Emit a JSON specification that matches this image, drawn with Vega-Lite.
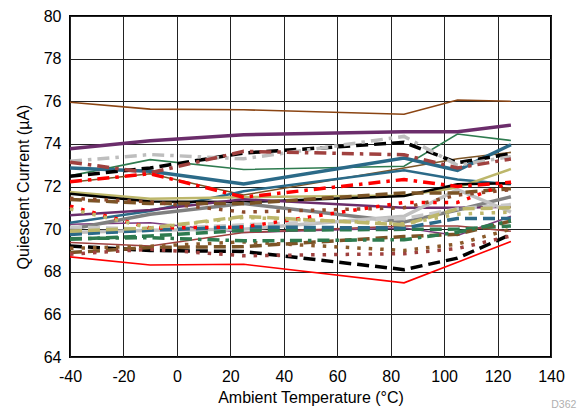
{
  "$schema": "https://vega.github.io/schema/vega-lite/v6.json",
  "autosize": "none",
  "width": 481,
  "height": 341,
  "padding": {"left": 70, "top": 16, "right": 29, "bottom": 58},
  "background": "white",
  "config": {
    "view": {"stroke": "black", "strokeWidth": 2},
    "axis": {"labelFont": "Liberation Sans", "titleFont": "Liberation Sans", "labelFontSize": 16, "titleFontSize": 16, "titleFontWeight": "normal", "labelColor": "black", "titleColor": "black", "gridColor": "#222", "gridOpacity": 1, "gridWidth": 1, "ticks": false, "domain": false, "labelExpr": "'' + datum.value"}
  },
  "title": {"text": "D362", "orient": "bottom", "anchor": "end", "align": "right", "fontSize": 10.5, "fontWeight": "normal", "color": "#b0b0b0", "font": "Liberation Sans", "dx": 12, "dy": -5, "offset": 0},
  "data": {"values": [
    {"s":"A","t":-40,"v":75.95},{"s":"A","t":-10,"v":75.63},{"s":"A","t":25,"v":75.6},{"s":"A","t":85,"v":75.39},{"s":"A","t":105,"v":76.06},{"s":"A","t":125,"v":76.0},
    {"s":"B","t":-40,"v":73.77},{"s":"B","t":-10,"v":74.15},{"s":"B","t":25,"v":74.43},{"s":"B","t":85,"v":74.57},{"s":"B","t":105,"v":74.57},{"s":"B","t":125,"v":74.88},
    {"s":"C","t":-40,"v":73.18},{"s":"C","t":-10,"v":73.5},{"s":"C","t":25,"v":73.3},{"s":"C","t":85,"v":74.35},{"s":"C","t":105,"v":73.0},{"s":"C","t":125,"v":73.4},
    {"s":"D","t":-40,"v":72.48},{"s":"D","t":-10,"v":72.87},{"s":"D","t":25,"v":73.57},{"s":"D","t":85,"v":74.07},{"s":"D","t":105,"v":73.12},{"s":"D","t":125,"v":73.54},
    {"s":"E","t":-40,"v":73.14},{"s":"E","t":-10,"v":72.64},{"s":"E","t":25,"v":73.65},{"s":"E","t":85,"v":73.49},{"s":"E","t":105,"v":72.87},{"s":"E","t":125,"v":73.29},
    {"s":"F","t":-40,"v":72.5},{"s":"F","t":-10,"v":73.26},{"s":"F","t":25,"v":72.8},{"s":"F","t":85,"v":72.95},{"s":"F","t":105,"v":74.46},{"s":"F","t":125,"v":74.16},
    {"s":"G","t":-40,"v":72.87},{"s":"G","t":-10,"v":72.72},{"s":"G","t":25,"v":72.12},{"s":"G","t":85,"v":73.34},{"s":"G","t":105,"v":72.76},{"s":"G","t":125,"v":73.96},
    {"s":"G2","t":-40,"v":70.3},{"s":"G2","t":-10,"v":70.85},{"s":"G2","t":25,"v":71.78},{"s":"G2","t":85,"v":72.76},{"s":"G2","t":105,"v":72.33},{"s":"G2","t":125,"v":72.1},
    {"s":"H","t":-40,"v":72.22},{"s":"H","t":-10,"v":72.6},{"s":"H","t":25,"v":71.5},{"s":"H","t":85,"v":72.33},{"s":"H","t":105,"v":72.0},{"s":"H","t":125,"v":72.2},
    {"s":"I","t":-40,"v":71.08},{"s":"I","t":-10,"v":70.05},{"s":"I","t":25,"v":70.1},{"s":"I","t":85,"v":71.25},{"s":"I","t":105,"v":71.25},{"s":"I","t":125,"v":72.2},
    {"s":"J","t":-40,"v":71.74},{"s":"J","t":-10,"v":71.42},{"s":"J","t":25,"v":71.5},{"s":"J","t":85,"v":71.58},{"s":"J","t":105,"v":71.95},{"s":"J","t":125,"v":72.82},
    {"s":"K","t":-40,"v":71.66},{"s":"K","t":-10,"v":71.3},{"s":"K","t":25,"v":71.27},{"s":"K","t":85,"v":71.55},{"s":"K","t":105,"v":72.1},{"s":"K","t":125,"v":72.15},
    {"s":"L","t":-40,"v":71.39},{"s":"L","t":-10,"v":71.2},{"s":"L","t":25,"v":71.2},{"s":"L","t":85,"v":71.7},{"s":"L","t":105,"v":71.7},{"s":"L","t":125,"v":71.9},
    {"s":"M","t":-40,"v":72.2},{"s":"M","t":-10,"v":72.6},{"s":"M","t":25,"v":71.6},{"s":"M","t":85,"v":72.87},{"s":"M","t":105,"v":73.3},{"s":"M","t":125,"v":73.6},
    {"s":"N","t":-40,"v":70.65},{"s":"N","t":-10,"v":70.9},{"s":"N","t":25,"v":71.4},{"s":"N","t":85,"v":71.0},{"s":"N","t":105,"v":71.0},{"s":"N","t":125,"v":71.05},
    {"s":"O","t":-40,"v":70.23},{"s":"O","t":-10,"v":70.3},{"s":"O","t":25,"v":69.84},{"s":"O","t":85,"v":70.05},{"s":"O","t":105,"v":69.7},{"s":"O","t":125,"v":70.6},
    {"s":"P","t":-40,"v":69.99},{"s":"P","t":-10,"v":70.7},{"s":"P","t":25,"v":71.2},{"s":"P","t":85,"v":70.33},{"s":"P","t":105,"v":70.9},{"s":"P","t":125,"v":71.52},
    {"s":"Q","t":-40,"v":69.84},{"s":"Q","t":-10,"v":69.95},{"s":"Q","t":25,"v":70.0},{"s":"Q","t":85,"v":70.6},{"s":"Q","t":105,"v":71.85},{"s":"Q","t":125,"v":70.8},
    {"s":"R","t":-40,"v":70.1},{"s":"R","t":-10,"v":70.0},{"s":"R","t":25,"v":70.2},{"s":"R","t":85,"v":70.5},{"s":"R","t":105,"v":70.95},{"s":"R","t":125,"v":71.15},
    {"s":"S","t":-40,"v":69.53},{"s":"S","t":-10,"v":69.68},{"s":"S","t":25,"v":69.94},{"s":"S","t":85,"v":69.99},{"s":"S","t":105,"v":70.0},{"s":"S","t":125,"v":70.15},
    {"s":"T","t":-40,"v":69.55},{"s":"T","t":-10,"v":69.6},{"s":"T","t":25,"v":69.45},{"s":"T","t":85,"v":69.5},{"s":"T","t":105,"v":69.85},{"s":"T","t":125,"v":70.38},
    {"s":"U","t":-40,"v":69.75},{"s":"U","t":-10,"v":69.95},{"s":"U","t":25,"v":70.1},{"s":"U","t":85,"v":70.05},{"s":"U","t":105,"v":70.5},{"s":"U","t":125,"v":70.5},
    {"s":"V","t":-40,"v":69.37},{"s":"V","t":-10,"v":69.21},{"s":"V","t":25,"v":69.84},{"s":"V","t":85,"v":70.15},{"s":"V","t":105,"v":70.15},{"s":"V","t":125,"v":69.9},
    {"s":"W","t":-40,"v":69.21},{"s":"W","t":-10,"v":69.0},{"s":"W","t":25,"v":68.95},{"s":"W","t":85,"v":68.1},{"s":"W","t":105,"v":68.64},{"s":"W","t":125,"v":69.75},
    {"s":"X","t":-40,"v":68.9},{"s":"X","t":-10,"v":69.14},{"s":"X","t":25,"v":69.18},{"s":"X","t":85,"v":69.65},{"s":"X","t":105,"v":69.76},{"s":"X","t":125,"v":70.38},
    {"s":"Y","t":-40,"v":68.82},{"s":"Y","t":-10,"v":69.06},{"s":"Y","t":25,"v":68.75},{"s":"Y","t":85,"v":68.85},{"s":"Y","t":105,"v":69.09},{"s":"Y","t":125,"v":69.68},
    {"s":"Z","t":-40,"v":69.1},{"s":"Z","t":-10,"v":69.2},{"s":"Z","t":25,"v":69.4},{"s":"Z","t":85,"v":69.0},{"s":"Z","t":105,"v":69.3},{"s":"Z","t":125,"v":70.0},
    {"s":"AA","t":-40,"v":70.95},{"s":"AA","t":-10,"v":70.05},{"s":"AA","t":25,"v":70.55},{"s":"AA","t":85,"v":70.25},{"s":"AA","t":105,"v":70.7},{"s":"AA","t":125,"v":70.8},
    {"s":"AB","t":-40,"v":69.9},{"s":"AB","t":-10,"v":70.05},{"s":"AB","t":25,"v":70.6},{"s":"AB","t":85,"v":70.2},{"s":"AB","t":105,"v":70.95},{"s":"AB","t":125,"v":71.0},
    {"s":"AC","t":-40,"v":68.7},{"s":"AC","t":-10,"v":68.32},{"s":"AC","t":25,"v":68.35},{"s":"AC","t":85,"v":67.48},{"s":"AC","t":105,"v":68.45},{"s":"AC","t":125,"v":69.42},
    {"s":"AD","t":-40,"v":71.45},{"s":"AD","t":-10,"v":71.28},{"s":"AD","t":25,"v":70.8},{"s":"AD","t":85,"v":71.0},{"s":"AD","t":105,"v":71.6},{"s":"AD","t":125,"v":71.85}
  ]},
  "encoding": {
    "x": {"field": "t", "type": "quantitative", "scale": {"domain": [-40, 140], "nice": false}, "axis": {"values": [-40,-20,0,20,40,60,80,100,120,140], "title": "Ambient Temperature (°C)", "labelPadding": 11, "titlePadding": 5, "labelFlush": false}},
    "y": {"field": "v", "type": "quantitative", "scale": {"domain": [64, 80], "nice": false}, "axis": {"values": [64,66,68,70,72,74,76,78,80], "title": "Quiescent Current (µA)", "labelPadding": 9, "titlePadding": 12}},
    "color": {"field": "s", "type": "nominal", "legend": null, "scale": {
      "domain": ["A","B","C","D","E","F","G","G2","H","I","J","K","L","M","N","O","P","Q","R","S","T","U","V","W","X","Y","Z","AA","AB","AC","AD"],
      "range": ["#8B4513","#6B2D6B","#BEBEBE","#000000","#A0413F","#2E7B4F","#2B6A88","#2B6A88","#FF0000","#FF0000","#BDB76B","#000000","#7B5426","#7B5426","#6B2D6B","#7B3A7B","#808080","#C0C0C0","#C8C8C8","#2E7B4F","#2E7B4F","#2B6A88","#A0413F","#000000","#7B5426","#A0413F","#8B5A2B","#BDB76B","#BDB76B","#FF0000","#8B4A2B"]}}
  },
  "layer": [
    {"transform": [{"filter": {"field": "s", "oneOf": ["A","F","M","O","V","AC"]}}], "mark": {"type": "line", "strokeWidth": 1.6}},
    {"transform": [{"filter": {"field": "s", "oneOf": ["J","K","N","G2"]}}], "mark": {"type": "line", "strokeWidth": 2.5}},
    {"transform": [{"filter": {"field": "s", "oneOf": ["B","G","P","Q"]}}], "mark": {"type": "line", "strokeWidth": 3.5}},
    {"transform": [{"filter": {"field": "s", "oneOf": ["D","L","R","S","U","W","X","AB"]}}], "mark": {"type": "line", "strokeWidth": 3.5, "strokeDash": [12, 6]}},
    {"transform": [{"filter": {"field": "s", "oneOf": ["I","Y","Z","AA","AD"]}}], "mark": {"type": "line", "strokeWidth": 3.5, "strokeDash": [3.5, 8], "strokeCap": "butt"}},
    {"transform": [{"filter": {"field": "s", "oneOf": ["C","E","H","T"]}}], "mark": {"type": "line", "strokeWidth": 3.5, "strokeDash": [12, 6, 3.5, 6]}}
  ]
}
